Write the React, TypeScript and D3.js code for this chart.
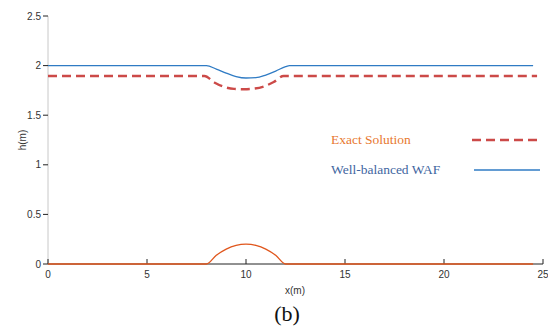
import React, { useEffect, useRef } from 'react';
import * as d3 from 'd3';

// x positions (m) where the profiles were read
const xs = [0, 8, 8.5, 9, 9.5, 10, 10.5, 11, 11.5, 12, 12.2, 24.5];
// bed profile z(x)
const bed = [0, 0, 0.0875, 0.15, 0.1875, 0.2, 0.1875, 0.15, 0.0875, 0, 0, 0];
// well-balanced WAF water depth
const waf = [2.0, 2.0, 1.965, 1.925, 1.89, 1.875, 1.878, 1.905, 1.945, 1.99, 2.0, 2.0];
// exact solution
const exactX = [0, 7.9, 8.4, 8.9, 9.4, 9.9, 10.4, 10.9, 11.4, 11.9, 24.7];
const exact = [1.895, 1.895, 1.83, 1.785, 1.765, 1.762, 1.768, 1.79, 1.835, 1.895, 1.895];

const xTicks = [0, 5, 10, 15, 20, 25];
const yTicks = [0, 0.5, 1, 1.5, 2, 2.5];
const legendItems = ['Exact Solution', 'Well-balanced WAF'];

export default function App() {
    const svgRef = useRef<SVGSVGElement>(null);

    useEffect(() => {
        if (!svgRef.current) return;
        const svg = d3.select(svgRef.current);
        svg.selectAll("*").remove();

        const left = 48, right = 543, top = 16, bottom = 264;

        const x = d3.scaleLinear().domain([0, 25]).range([left, right]);
        const y = d3.scaleLinear().domain([0, 2.5]).range([bottom, top]);

        const tickFont = 'Arial, "Liberation Sans", sans-serif';

        // y axis (light grey line, ticks outside)
        svg.append("line")
            .attr("x1", left).attr("x2", left)
            .attr("y1", top).attr("y2", bottom)
            .attr("stroke", "#c8c8c8").attr("stroke-width", 1);
        yTicks.forEach(t => {
            svg.append("line")
                .attr("x1", left - 5).attr("x2", left)
                .attr("y1", y(t)).attr("y2", y(t))
                .attr("stroke", "#222").attr("stroke-width", 1);
            svg.append("text")
                .attr("x", left - 7).attr("y", y(t) + 3.5)
                .attr("text-anchor", "end")
                .attr("font-family", tickFont).attr("font-size", 10)
                .attr("fill", "#333")
                .text(String(t));
        });

        // x axis (black, ticks inside)
        svg.append("line")
            .attr("x1", left).attr("x2", right)
            .attr("y1", bottom).attr("y2", bottom)
            .attr("stroke", "#222").attr("stroke-width", 1);
        xTicks.forEach(t => {
            svg.append("line")
                .attr("x1", x(t)).attr("x2", x(t))
                .attr("y1", bottom - 5).attr("y2", bottom)
                .attr("stroke", "#222").attr("stroke-width", 1);
            svg.append("text")
                .attr("x", x(t)).attr("y", bottom + 14)
                .attr("text-anchor", "middle")
                .attr("font-family", tickFont).attr("font-size", 10)
                .attr("fill", "#333")
                .text(String(t));
        });

        // axis labels
        svg.append("text")
            .attr("x", 295).attr("y", 294)
            .attr("text-anchor", "middle")
            .attr("font-family", tickFont).attr("font-size", 10)
            .attr("fill", "#333")
            .text("x(m)");
        svg.append("text")
            .attr("transform", `translate(26,140) rotate(-90)`)
            .attr("text-anchor", "middle")
            .attr("font-family", tickFont).attr("font-size", 10)
            .attr("fill", "#333")
            .text("h(m)");

        const line = d3.line<number>()
            .curve(d3.curveMonotoneX);

        // bed
        svg.append("path")
            .attr("d", line(bed.map((v, i) => [x(xs[i]), y(v)]) as any))
            .attr("fill", "none")
            .attr("stroke", "#e0561c")
            .attr("stroke-width", 1.3);

        // WAF
        svg.append("path")
            .attr("d", line(waf.map((v, i) => [x(xs[i]), y(v)]) as any))
            .attr("fill", "none")
            .attr("stroke", "#2f7bc4")
            .attr("stroke-width", 1.3);

        // exact
        svg.append("path")
            .attr("d", line(exact.map((v, i) => [x(exactX[i]), y(v)]) as any))
            .attr("fill", "none")
            .attr("stroke", "#cc4a48")
            .attr("stroke-width", 2.4)
            .attr("stroke-dasharray", "9,5");

        // legend
        const legendColors = ['#e8782f', '#3f669f'];
        legendItems.forEach((name, i) => {
            const ly = 140 + i * 30;
            svg.append("text")
                .attr("x", 331).attr("y", ly + 4)
                .attr("font-family", '"Liberation Serif", "Times New Roman", serif')
                .attr("font-size", 13.5)
                .attr("fill", legendColors[i])
                .text(name);
        });
        svg.append("line")
            .attr("x1", 472).attr("x2", 538)
            .attr("y1", 140).attr("y2", 140)
            .attr("stroke", "#cc4a48").attr("stroke-width", 2.4)
            .attr("stroke-dasharray", "9,5");
        svg.append("line")
            .attr("x1", 474).attr("x2", 540)
            .attr("y1", 170).attr("y2", 170)
            .attr("stroke", "#2f7bc4").attr("stroke-width", 1.6);

        // caption
        svg.append("text")
            .attr("x", 287).attr("y", 321)
            .attr("text-anchor", "middle")
            .attr("font-family", '"Liberation Serif", "Times New Roman", serif')
            .attr("font-size", 22)
            .attr("fill", "#111")
            .text("(b)");
    }, []);

    return (
        <svg ref={svgRef} width={548} height={327}
            style={{ position: 'absolute', left: 0, top: 0, background: 'white' }} />
    );
}
